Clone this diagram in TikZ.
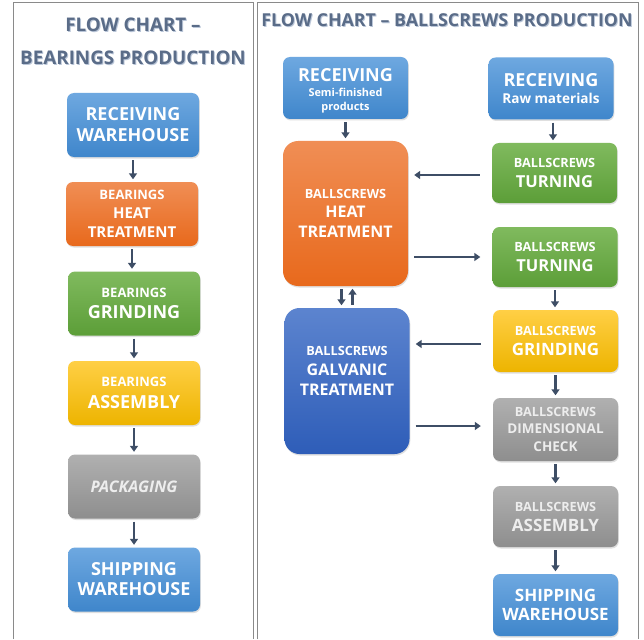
\documentclass[tikz,border=0pt]{standalone}
\usepackage{fontspec}
\setmainfont{Open Sans}
\usetikzlibrary{arrows.meta,shadows}
\definecolor{arrowc}{HTML}{3E4E66}
\definecolor{framec}{HTML}{8A8A8A}
\definecolor{titlec}{HTML}{5A6C88}
\definecolor{titleglow}{HTML}{A9B8CF}
\definecolor{blueT}{HTML}{6EA8E0}
\definecolor{blueB}{HTML}{3F86CB}
\definecolor{orangeT}{HTML}{F08E55}
\definecolor{orangeB}{HTML}{E8691C}
\definecolor{greenT}{HTML}{80BA5E}
\definecolor{greenB}{HTML}{5C9E38}
\definecolor{yellowT}{HTML}{FFCF45}
\definecolor{yellowB}{HTML}{EDB400}
\definecolor{grayT}{HTML}{B0B0B0}
\definecolor{grayB}{HTML}{8E8E8E}
\definecolor{dblueT}{HTML}{5C84CF}
\definecolor{dblueB}{HTML}{2E5DB8}
\newcommand{\fs}[2]{\fontsize{#1}{#2}\selectfont}
\tikzset{
  box/.style={rounded corners=7pt, minimum width=132pt, minimum height=64pt,
    align=center, text width=120pt, text=white, font=\bfseries, inner sep=2pt,
    drop shadow={opacity=0.25, shadow xshift=0.8pt, shadow yshift=-1.5pt}},
  rbox/.style={box, minimum width=125pt, minimum height=62pt},
  bigbox/.style={box, minimum width=125pt, minimum height=146pt, rounded corners=15pt},
  bluebox/.style={top color=blueT, bottom color=blueB},
  orangebox/.style={top color=orangeT, bottom color=orangeB},
  greenbox/.style={top color=greenT, bottom color=greenB},
  yellowbox/.style={top color=yellowT, bottom color=yellowB},
  graybox/.style={top color=grayT, bottom color=grayB, text=white!93!black},
  dbluebox/.style={top color=dblueT, bottom color=dblueB},
  arr/.style={draw=arrowc, line width=2.1pt, -{Triangle[length=6pt,width=8pt]}},
  vtl/.style={arr, shorten <=3pt, shorten >=2.5pt},
  htl/.style={arr, shorten <=12pt, shorten >=6pt},
  htr/.style={arr, shorten <=6pt, shorten >=12pt},
  frame/.style={draw=framec, line width=1pt},
  titletext/.style={text=titlec, inner sep=0pt},
  titleglowtext/.style={text=titleglow, inner sep=0pt, opacity=0.8}
}
\begin{document}
\begin{tikzpicture}[x=1pt,y=-1pt]
\useasboundingbox (0,0) rectangle (644,639);
\fill[white] (0,0) rectangle (644,639);
% frames
\draw[frame] (13,639) -- (13,3) -- (253,3) -- (253,639);
\draw[frame] (257,639) -- (257,3) -- (638,3) -- (638,639);
% titles
\node[titleglowtext, font=\bfseries\fs{18.8}{20}] (t1g) at (134,26) {FLOW CHART –};
\node[titletext, font=\bfseries\fs{18.8}{20}] (t1) at (133,25) {FLOW CHART –};
\node[titleglowtext, font=\bfseries\fs{18.8}{20}] (t2g) at (134,59) {BEARINGS PRODUCTION};
\node[titletext, font=\bfseries\fs{18.8}{20}] (t2) at (133,58) {BEARINGS PRODUCTION};
\node[titleglowtext, font=\bfseries\fs{17.8}{20}] (t3g) at (448,21) {FLOW CHART – BALLSCREWS PRODUCTION};
\node[titletext, font=\bfseries\fs{17.8}{20}] (t3) at (447,20) {FLOW CHART – BALLSCREWS PRODUCTION};

% left column
\node[box,bluebox] (L1) at (133,125) {\fs{18}{18}RECEIVING\\\fs{18}{21}WAREHOUSE\par};
\node[box,orangebox] (L2) at (132,214) {\fs{13}{13}BEARINGS\\\fs{15}{19}HEAT\\\fs{15}{19}TREATMENT\par};
\node[box,greenbox] (L3) at (134,303.5) {\fs{13}{13}BEARINGS\\\fs{18}{21.5}GRINDING\par};
\node[box,yellowbox] (L4) at (134,393) {\fs{13}{13}BEARINGS\\\fs{18}{21.5}ASSEMBLY\par};
\node[box,graybox] (L5) at (134,486.5) {\fs{16}{16}\itshape PACKAGING\par};
\node[box,bluebox] (L6) at (134,579.5) {\fs{18}{18}SHIPPING\\\fs{18}{20}WAREHOUSE\par};
\foreach \a/\b in {L1/L2,L2/L3,L3/L4,L4/L5,L5/L6}
  \draw[vtl] (\a.south) -- (\a.south |- \b.north);

% right panel
\node[rbox,bluebox] (R1) at (345.5,88) {\fs{18}{18}\rule{0pt}{19pt}RECEIVING\\\fs{10.9}{15}Semi-finished\\\fs{10.9}{14}products\par};
\node[rbox,bluebox] (R2) at (551,88.5) {\fs{18}{18}RECEIVING\\\fs{13.6}{17.6}Raw materials\par};
\node[bigbox,orangebox,minimum height=145pt] (H) at (345.5,213.5) {\fs{12.7}{12.7}BALLSCREWS\\\fs{16}{19}HEAT\\\fs{16}{19.3}TREATMENT\par};
\node[bigbox,dbluebox] (G) at (347,381) {\fs{12.7}{12.7}BALLSCREWS\\\fs{16}{20}GALVANIC\\\fs{16}{20}TREATMENT\rule[-20pt]{0pt}{20pt}\par};
\node[rbox,greenbox,minimum height=60pt] (T1) at (554.5,173) {\fs{12.7}{12.7}BALLSCREWS\\\fs{16.5}{20}TURNING\par};
\node[rbox,greenbox,minimum height=60pt] (T2) at (555,257) {\fs{12.7}{12.7}BALLSCREWS\\\fs{16.5}{20}TURNING\par};
\node[rbox,yellowbox] (GR) at (555.5,341) {\fs{12.7}{12.7}BALLSCREWS\\\fs{17}{20}GRINDING\par};
\node[rbox,graybox,minimum height=63pt] (D) at (555.5,429.5) {\fs{12.7}{12.7}BALLSCREWS\\\fs{13.5}{17}DIMENSIONAL\\\fs{13.5}{17.5}CHECK\par};
\node[rbox,graybox,minimum height=61pt] (A) at (555.5,516.5) {\fs{12.7}{12.7}BALLSCREWS\\\fs{17}{20}ASSEMBLY\par};
\node[rbox,bluebox] (S) at (555.5,605) {\fs{17}{17}SHIPPING\\\fs{17}{19}WAREHOUSE\par};

% vertical arrows
\draw[vtl] (R1.south) -- (R1.south |- H.north);
\draw[vtl] ([xshift=2pt]R2.south) -- ([xshift=2pt]R2.south |- T1.north);
\foreach \a/\b in {T2/GR,GR/D,D/A,A/S}
  \draw[vtl] (\a.south) -- (\a.south |- \b.north);
\draw[vtl] ([xshift=-4pt]H.south) -- ([xshift=-4pt]H.south |- G.north);
\draw[vtl] ([xshift=7pt]H.south |- G.north) -- ([xshift=7pt]H.south);
% horizontal arrows
\draw[htl] ([yshift=-2pt]T1.west) -- ([yshift=-2pt]T1.west -| H.east);
\draw[htr] (H.east |- T2.west) -- (T2.west);
\draw[htl] ([yshift=-3pt]GR.west) -- ([yshift=-3pt]GR.west -| G.east);
\draw[htr] ([yshift=3.5pt]G.east |- D.west) -- ([yshift=3.5pt]D.west);
\end{tikzpicture}
\end{document}
